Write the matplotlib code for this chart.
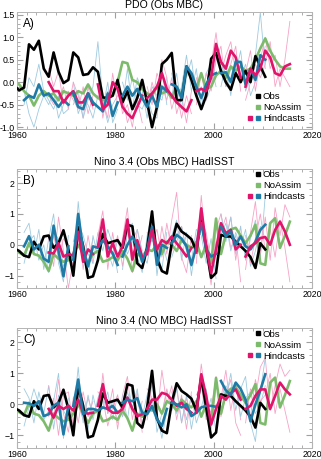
import numpy as np
import matplotlib.pyplot as plt
from matplotlib.lines import Line2D
from matplotlib.legend_handler import HandlerTuple
from matplotlib.ticker import MultipleLocator

plt.rcParams['font.family'] = ['Liberation Sans', 'DejaVu Sans']

# observed / free-running series, annual values starting 1959
obs_start = 1959
pdo_obs = [-0.08, -0.18, -0.12, 0.84, 0.72, 0.92, 0.3, 0.12, 0.66, 0.23, -0.02, 0.05,
           0.66, 0.55, 0.16, 0.18, 0.33, 0.23, -0.34, -0.35, -0.3, 0.05, -0.45, -0.2,
           -0.6, -0.35, 0.05, -0.45, -1.0, -0.55, 0.4, 0.5, 0.65, -0.4, -0.4, 0.35,
           0.05, -0.3, -0.6, -0.3, 0.52, 0.65, 0.25, 0.0, -0.17, 0.2, 0.0, 0.25, 0.0,
           0.58, 0.35, 0.12]
pdo_noassim = [0.0, -0.05, -0.2, -0.3, -0.52, -0.3, -0.2, -0.3, -0.25, -0.4, -0.2, -0.25,
               -0.3, -0.2, -0.25, -0.05, -0.25, -0.35, -0.4, -0.35, -0.3, 0.0, 0.45, 0.42,
               0.05, 0.0, -0.15, -0.25, -0.3, -0.1, -0.25, -0.2, -0.35, -0.1, -0.3, 0.3,
               0.1, -0.15, 0.2, -0.15, -0.1, 0.15, 0.25, 0.1, 0.35, 0.25, 0.35, 0.25, 0.3,
               0.5, 0.75, 0.97, 0.7, 0.5, 0.35, 0.3, 0.3]
nino_obs = [-0.12, -0.2, -0.35, -0.4, 0.1, -0.15, 0.27, 0.3, -0.1, 0.05, 0.47, -0.15,
            -1.0, 0.57, -0.05, -1.07, -1.02, -0.5, 0.35, 0.05, 0.1, 0.15, -0.1, 0.65,
            0.6, -0.6, -0.75, -0.1, 1.08, -0.45, -0.85, -0.93, 0.05, 0.68, 0.43, 0.32,
            0.18, -0.2, 0.86, -0.1, -1.07, -0.91, 0.32, 0.27, 0.27, 0.1, -0.05, -0.2,
            -0.4, -0.75, 0.05, -0.15]
nino_noassim = [-0.15, -0.25, -0.35, 0.05, -0.3, -0.35, -0.55, -0.85, -0.3, -0.45, -0.55,
                -0.5, -0.3, 0.0, -0.3, -0.6, -0.3, -0.2, -0.55, -0.5, -0.4, -0.5, -0.2,
                -0.45, -0.85, -0.3, -0.4, -0.15, -0.2, 0.0, -0.3, 0.1, 0.0, -0.2, 0.15,
                0.0, -0.1, 0.1, -0.4, 0.0, -0.6, 0.85, -0.3, 0.35, 0.5, 0.55, 0.3, 0.05,
                0.3, 0.65, -0.6, -0.65, 0.7, 0.86, -0.1, 0.3, 0.75]

# hindcasts: 10-year runs started every 5 years
hc_starts = [1961, 1966, 1971, 1976, 1981, 1986, 1991, 1996, 2001, 2006]

pdo_hc = [
    [-0.4, -0.3, -0.35, -0.05, -0.3, -0.25, -0.4, -0.55, -0.4, -0.5],
    [0.0, -0.2, -0.2, -0.45, -0.3, -0.2, -0.45, -0.45, -0.25, -0.5],
    [-0.25, -0.55, -0.6, -0.25, -0.45, -0.55, -0.65, -0.25, -0.75, -0.45],
    [-0.05, -0.6, -0.5, 0.0, -0.15, -0.55, -0.7, -0.8, -0.55, -0.3],
    [-0.3, -0.1, -0.3, -0.15, -0.35, -0.55, -0.3, -0.55, -0.1, -0.2],
    [-0.35, -0.25, -0.1, 0.2, -0.15, -0.3, -0.45, -0.55, -0.65, -0.4],
    [-0.05, -0.1, -0.35, 0.35, 0.2, -0.1, -0.35, -0.05, 0.15, 0.2],
    [-0.2, -0.15, -0.2, 0.1, 0.85, 0.45, 0.3, 0.7, 0.55, 0.1],
    [0.2, 0.22, 0.0, 0.45, 0.45, -0.05, 0.3, 0.05, 0.6, 0.5],
    [-0.1, 0.3, 0.15, 0.3, 0.7, 0.55, 0.2, 0.15, 0.35, 0.4],
]
pdo_members = [
    [[-0.2, -0.7, -1.0, -0.6, -0.3, -0.5, -0.2, -0.8, -0.5, -0.3],
     [-0.5, 0.1, -0.1, 0.4, -0.2, -0.4, -0.6, -0.3, -0.7, -0.6]],
    [[0.3, -0.1, 0.25, -0.5, -0.2, -0.4, -0.6, -0.1, -0.7, -0.3],
     [-0.3, -0.5, -0.4, -0.1, -0.6, 0.0, -0.3, -0.8, -0.1, -0.6]],
    [[-0.5, -0.2, -0.8, -0.4, -0.1, 0.9, -0.4, -0.9, -0.5, -0.3],
     [0.0, -0.7, -0.4, -0.5, -0.8, -0.3, -0.6, 0.0, -0.9, -0.6]],
    [[-0.3, -0.4, -0.8, 0.2, -0.5, -0.3, -0.9, -0.6, -0.4, -0.9],
     [0.2, -0.8, -0.2, -0.3, 0.1, -0.7, -0.5, -1.0, -0.3, 0.0]],
    [[-0.5, 0.3, -0.6, 0.1, -0.2, -0.8, -0.1, -0.3, -0.4, 0.1],
     [0.0, -0.4, 0.1, -0.5, -0.6, -0.3, -0.7, -0.8, 0.3, -0.5]],
    [[-0.6, 0.0, -0.4, 0.5, 0.1, -0.6, -0.2, -0.8, -0.3, -0.7],
     [-0.1, -0.5, 0.2, -0.1, -0.4, 0.1, -0.7, -0.3, -0.9, -0.2]],
    [[0.2, -0.4, -0.1, 0.6, -0.2, 0.3, -0.6, 0.2, 0.4, -0.1],
     [-0.3, 0.2, -0.6, 0.1, 0.5, -0.3, -0.1, -0.4, -0.1, 0.5]],
    [[-0.5, 0.2, -0.4, 0.4, 1.1, 0.2, 0.6, 0.9, 0.2, 0.4],
     [0.1, -0.4, 0.2, -0.2, 0.5, 0.8, -0.1, 0.4, 0.8, -0.2]],
    [[0.5, -0.1, 0.3, 0.2, 0.7, -0.2, 0.1, 0.6, 1.55, 0.3],
     [-0.1, 0.4, -0.3, 0.6, 0.1, 0.4, -0.3, 0.0, 0.3, 0.8]],
    [[0.2, 0.7, -0.2, 0.5, 1.0, 0.3, 0.6, -0.1, 0.5, 1.35],
     [-0.4, 0.0, 0.4, 0.1, 0.4, 0.9, -0.1, 0.3, 0.1, -0.1]],
]

nino_mbc_hc = [
    [-0.05, 0.28, -0.15, 0.0, -0.45, -0.55, 0.62, -0.2, -1.02, -0.05],
    [-0.25, -0.28, 0.05, -0.38, -0.3, -0.35, 0.42, -0.55, -0.15, -0.3],
    [-0.48, 1.0, -0.15, -0.7, -0.05, -0.1, 0.15, -0.05, -0.28, -0.65],
    [-0.05, 0.82, -0.38, 0.05, -0.38, -0.05, 0.82, -0.48, 0.15, -0.4],
    [-0.38, 0.0, 0.27, -0.05, -0.55, -0.15, 0.58, -0.65, 0.0, -0.1],
    [-0.3, 0.48, -0.15, 0.15, 0.05, 0.27, 0.05, -0.15, -0.38, -0.1],
    [0.05, 0.32, 0.2, -0.05, -0.65, -0.05, 0.7, -0.15, -0.38, -0.3],
    [-0.25, 1.18, -0.05, -0.92, -0.15, 0.7, 0.37, 0.48, -0.15, 0.0],
    [0.58, 0.27, 0.43, 0.0, 0.27, -0.05, -0.15, 0.1, 0.48, 0.65],
    [-0.38, -0.05, 0.05, 0.22, 0.25, 0.0, 0.48, 0.75, 0.43, 0.0],
]
nino_mbc_members = [
    [[0.4, 0.7, -0.3, 0.5, -0.8, 0.2, 1.0, -0.6, -1.2, 0.3],
     [-0.6, 0.1, 0.3, -0.5, 0.0, -0.9, 0.4, 0.2, -0.7, -0.3]],
    [[0.2, -0.7, 0.9, -0.2, -1.4, -0.5, 0.9, -0.8, 0.3, -0.6],
     [-0.6, 0.3, -0.4, 0.2, -0.1, -0.8, 0.2, 0.1, -0.6, 0.2]],
    [[-0.9, 1.4, -0.3, -1.1, 0.3, -0.4, 0.6, -0.2, -0.7, 0.2],
     [0.1, 0.7, 0.3, -0.3, -0.6, 0.4, -0.2, 0.5, 0.0, -0.9]],
    [[0.3, 1.1, -0.8, 0.4, -0.6, 0.2, 1.2, -0.9, 0.5, -0.2],
     [-0.5, 0.4, 0.1, -0.4, 0.3, -0.7, 0.5, -0.2, -0.4, 0.3]],
    [[-0.8, 0.4, 0.7, -0.4, -0.9, 0.3, 1.0, -1.0, 0.2, -0.5],
     [0.2, -0.3, 0.1, 0.5, -0.3, -0.6, 0.3, -0.2, -0.8, 0.4]],
    [[-0.2, 0.9, -0.6, 0.6, -0.3, 0.8, 1.7, -0.4, -0.9, 0.3],
     [0.4, 0.1, 0.5, -0.4, 0.7, -0.2, 0.3, 0.6, -0.2, -0.7]],
    [[0.3, 0.8, -0.5, 0.4, -1.0, 0.2, 1.1, -0.3, -0.9, 0.1],
     [-0.4, 0.1, 0.6, -0.2, -0.5, 0.5, 0.3, -0.6, 0.2, -1.1]],
    [[-0.6, 1.6, -0.2, -1.3, 0.5, 1.0, 0.2, 0.9, -0.5, 0.6],
     [0.2, 0.8, 0.4, -0.6, -0.3, 0.4, 0.9, -0.1, 0.3, -1.2]],
    [[1.0, 0.1, 0.9, -0.3, 0.6, -0.5, 0.2, 0.8, -0.4, 1.6],
     [0.3, 0.7, -0.2, 0.4, -0.1, 0.5, -0.7, -0.2, 0.6, 0.2]],
    [[-0.8, 0.4, 1.4, -0.3, 0.9, -0.5, 1.2, 0.3, 1.3, 0.9],
     [0.3, -0.6, 0.2, 1.0, -0.2, 0.5, -0.4, 0.8, -0.1, -1.2]],
]

nino_raw_hc = [
    [0.05, 0.03, -0.05, 0.1, -0.38, -0.32, -0.05, 0.05, -0.97, -0.05],
    [-0.15, -0.43, -0.05, -0.15, -0.05, -0.2, 0.15, -0.27, -0.3, -0.27],
    [-0.05, 0.8, -0.32, -0.15, -0.15, -0.2, -0.1, -0.15, -0.05, -0.27],
    [-0.05, 0.65, -0.15, -0.27, -0.27, -0.15, 0.22, -0.15, -0.38, -0.32],
    [0.05, 0.15, 0.1, 0.2, -0.27, -0.32, -0.05, -0.48, -0.7, -0.15],
    [-0.15, 0.15, 0.15, 0.37, 0.32, 0.15, -0.05, 0.05, -0.15, -0.27],
    [0.05, 0.0, -0.1, 0.0, -0.38, -0.27, -0.1, -0.05, -0.05, -0.08],
    [-0.27, 0.97, 0.27, -0.65, -0.15, 0.27, 0.15, 0.37, 0.48, 0.15],
    [0.75, 0.45, 0.3, 0.7, 0.5, 0.15, -0.55, 0.0, 0.45, 0.97],
    [-0.15, -0.05, 0.27, 0.48, 0.48, -0.15, 0.27, 0.7, 0.48, 0.32],
]
nino_raw_members = [
    [[0.5, 0.2, -0.6, 0.4, -0.3, 0.6, -0.8, 0.3, -0.2, -0.5],
     [-0.7, -0.1, 0.5, 0.0, -0.5, -0.2, 0.1, 1.0, -1.1, 0.2]],
    [[0.6, -0.5, 0.8, -0.3, -0.9, 0.2, -0.6, 0.4, -0.4, 0.1],
     [-0.4, 0.2, -1.0, 0.3, 0.4, -0.7, 0.0, -0.5, 0.2, -0.3]],
    [[-0.3, 1.2, -0.6, 0.3, -0.5, 0.2, 0.7, -0.3, 0.1, -0.6],
     [0.2, 0.5, 0.1, -0.8, 0.3, -0.4, -0.1, 0.4, -0.5, 0.3]],
    [[-0.6, 1.0, -0.3, 0.5, -0.8, 0.3, 0.9, -0.5, 0.4, -0.9],
     [0.4, 0.2, -0.7, -0.1, 0.3, -0.4, 0.2, -0.2, -0.6, 0.1]],
    [[0.3, -0.5, 0.6, 0.1, -0.4, 0.3, 0.8, -0.9, -0.3, 0.4],
     [-0.4, 0.4, -0.1, 0.5, -0.7, -0.2, 0.1, -0.3, -1.1, -0.2]],
    [[0.5, 0.2, -0.4, 1.1, 0.0, 0.6, -0.5, 0.3, -0.8, 0.4],
     [-0.5, 0.7, 0.1, -0.3, 0.5, -0.2, 0.6, -0.6, 0.2, -0.4]],
    [[-0.2, 0.5, -0.6, 0.3, -0.8, 0.1, 0.7, -0.4, 0.2, -0.9],
     [0.4, -0.3, 0.2, -0.5, 0.3, -0.6, -0.1, 0.5, -0.7, 0.0]],
    [[-0.3, 1.3, 0.1, -0.8, 0.6, 0.2, 1.1, -0.2, 0.7, -0.5],
     [0.3, 0.6, -0.5, -0.2, 0.9, -0.4, 0.3, 0.8, -0.6, -1.0]],
    [[0.8, 0.2, 1.0, -0.2, 0.5, 0.9, -0.6, -1.2, 0.4, 1.5],
     [0.2, 0.6, 0.3, 0.7, -0.4, 0.2, 0.4, -0.3, 0.0, 0.6]],
    [[-0.6, 0.5, 0.2, 1.2, 1.5, -0.2, 0.6, 1.3, 0.9, 1.1],
     [0.1, -0.4, 0.8, 0.1, 0.3, 1.0, -0.3, 0.5, -0.2, -0.9]],
]

PINK = '#e0146a'
BLUE = '#1f7ba6'
GREEN = '#7dbb6c'
PINK_THIN = '#f6a3c6'
BLUE_THIN = '#9fcbe0'


def plot_panel(ax, obs, noassim, hc, members, title, label, ylim, major, minor,
               loc, anchor):
    yr_obs = obs_start + np.arange(len(obs)) + 0.5
    yr_na = obs_start + np.arange(len(noassim)) + 0.5

    # ensemble members first (thin)
    for i, start in enumerate(hc_starts):
        c = BLUE_THIN if i % 2 == 0 else PINK_THIN
        for m in members[i]:
            ax.plot(start + np.arange(len(m)) + 0.5, m, color=c, lw=0.6, zorder=1)

    ax.plot(yr_na, noassim, color=GREEN, lw=1.9, zorder=2)
    ax.plot(yr_obs, obs, color='black', lw=1.9, zorder=3)

    for i, start in enumerate(hc_starts):
        c = BLUE if i % 2 == 0 else PINK
        ax.plot(start + np.arange(len(hc[i])) + 0.5, hc[i], color=c, lw=1.9, zorder=4)

    ax.set_xlim(1960, 2020)
    ax.set_ylim(ylim)
    ax.set_xticks([1960, 1980, 2000, 2020])
    ax.xaxis.set_minor_locator(MultipleLocator(2))
    ax.yaxis.set_major_locator(MultipleLocator(major))
    ax.yaxis.set_minor_locator(MultipleLocator(minor))
    ax.tick_params(which='both', direction='in', top=True, right=True,
                   color='#a0a0a0', labelsize=6.3, pad=1.5)
    ax.tick_params(which='major', length=4)
    ax.tick_params(which='minor', length=2)
    for s in ax.spines.values():
        s.set_color('#b4b4b4')
        s.set_linewidth(0.7)
    ax.set_title(title, fontsize=7.6, pad=3)
    ax.text(0.022, 0.95, label, transform=ax.transAxes, fontsize=8.5,
            va='top', ha='left')

    blank = Line2D([], [], ls='', marker='s', color='none', ms=3.3)
    sq = lambda c: Line2D([], [], ls='', marker='s', color=c, ms=3.3)
    handles = [(blank, sq('black')), (blank, sq(GREEN)), (sq(PINK), sq(BLUE))]
    ax.legend(handles, ['Obs', 'NoAssim', 'Hindcasts'], loc=loc, bbox_to_anchor=anchor,
              handler_map={tuple: HandlerTuple(ndivide=None, pad=0.5)},
              frameon=False, fontsize=6.8, handlelength=1.2, handletextpad=0.3,
              labelspacing=0.22, borderaxespad=0.0, borderpad=0.0)


fig = plt.figure(figsize=(3.21, 4.59), dpi=100)
ax1 = fig.add_axes([0.052, 0.719, 0.92, 0.255])
ax2 = fig.add_axes([0.052, 0.3725, 0.92, 0.259])
ax3 = fig.add_axes([0.052, 0.0246, 0.92, 0.26])

plot_panel(ax1, pdo_obs, pdo_noassim, pdo_hc, pdo_members, 'PDO (Obs MBC)', 'A)',
           (-1.04, 1.56), 0.5, 0.1, 'lower right', (0.975, 0.05))
ax1.yaxis.set_major_formatter(plt.FormatStrFormatter('%.1f'))
plot_panel(ax2, nino_obs, nino_noassim, nino_mbc_hc, nino_mbc_members,
           'Nino 3.4 (Obs MBC) HadISST', 'B)', (-1.4, 2.45), 1, 0.2,
           'upper right', (0.975, 0.99))
plot_panel(ax3, nino_obs, nino_noassim, nino_raw_hc, nino_raw_members,
           'Nino 3.4 (NO MBC) HadISST', 'C)', (-1.4, 2.45), 1, 0.2,
           'upper right', (0.975, 0.99))

fig.savefig('out.png', dpi=100)
